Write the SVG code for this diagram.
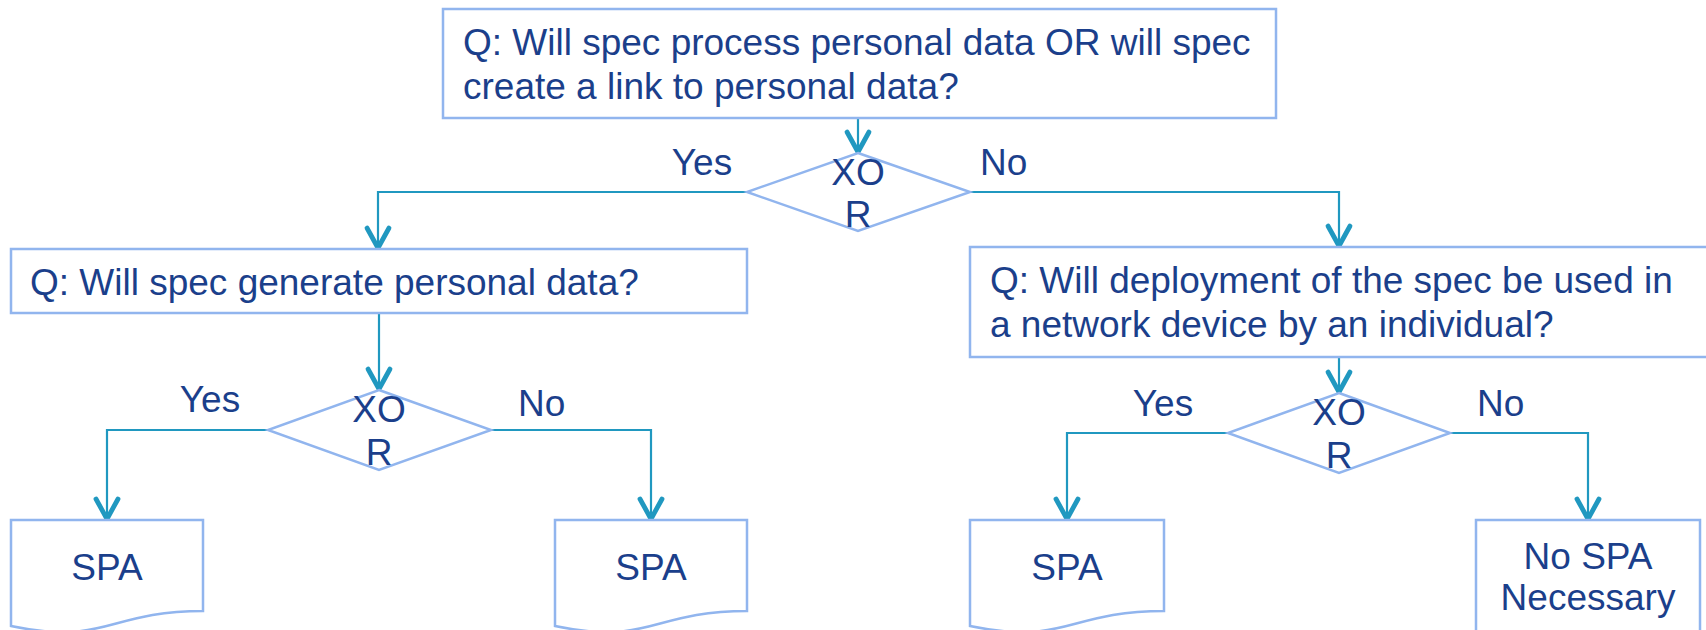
<svg xmlns="http://www.w3.org/2000/svg" width="1706" height="630" viewBox="0 0 1706 630">
<style>
.box{fill:#ffffff;stroke:#91B5EE;stroke-width:2.5}
.t{font-family:"Liberation Sans",Arial,sans-serif;font-size:37px;fill:#1B3F8B}
.c{text-anchor:middle}
.conn{fill:none;stroke:#2098C0;stroke-width:2.2}
</style>
<defs>
<marker id="arr" markerUnits="userSpaceOnUse" viewBox="-26 -15 30 30" markerWidth="30" markerHeight="30" refX="0" refY="0" orient="auto">
<path d="M-20,-11 L0,0 L-20,11" fill="none" stroke="#2098C0" stroke-width="4.8" stroke-linecap="round" stroke-linejoin="round"/>
</marker>
</defs>
<rect x="0" y="0" width="1706" height="630" fill="#ffffff"/>
<g id="connectors">
<path class="conn" d="M858,118 V152" marker-end="url(#arr)"/>
<path class="conn" d="M747,192 H378 V248" marker-end="url(#arr)"/>
<path class="conn" d="M970,192 H1339 V246" marker-end="url(#arr)"/>
<path class="conn" d="M379,313 V389" marker-end="url(#arr)"/>
<path class="conn" d="M268,430 H107 V519" marker-end="url(#arr)"/>
<path class="conn" d="M491,430 H651 V519" marker-end="url(#arr)"/>
<path class="conn" d="M1339,357 V392" marker-end="url(#arr)"/>
<path class="conn" d="M1228,433 H1067 V519" marker-end="url(#arr)"/>
<path class="conn" d="M1450,433 H1588 V519" marker-end="url(#arr)"/>
</g>
<g id="q1">
<rect class="box" x="443" y="9" width="833" height="109"/>
<text class="t" x="463" y="55">Q: Will spec process personal data OR will spec</text>
<text class="t" x="463" y="99">create a link to personal data?</text>
</g>
<g id="xor1">
<polygon class="box" points="858,153 970,192 858,231 747,192"/>
<text class="t c" x="858" y="185">XO</text>
<text class="t c" x="858" y="227">R</text>
</g>
<g id="lbl-yes1"><text class="t c" x="702" y="175">Yes</text></g>
<g id="lbl-no1"><text class="t" x="980" y="175">No</text></g>
<g id="q2">
<rect class="box" x="11" y="249" width="736" height="64"/>
<text class="t" x="30" y="295">Q: Will spec generate personal data?</text>
</g>
<g id="q3">
<rect class="box" x="970" y="247" width="740" height="110"/>
<text class="t" x="990" y="293">Q: Will deployment of the spec be used in</text>
<text class="t" x="990" y="337">a network device by an individual?</text>
</g>
<g id="xor2">
<polygon class="box" points="379,390 491,430 379,470 268,430"/>
<text class="t c" x="379" y="422">XO</text>
<text class="t c" x="379" y="465">R</text>
</g>
<g id="lbl-yes2"><text class="t c" x="210" y="412">Yes</text></g>
<g id="lbl-no2"><text class="t" x="518" y="416">No</text></g>
<g id="xor3">
<polygon class="box" points="1339,393 1450,433 1339,473 1228,433"/>
<text class="t c" x="1339" y="425">XO</text>
<text class="t c" x="1339" y="468">R</text>
</g>
<g id="lbl-yes3"><text class="t c" x="1163" y="416">Yes</text></g>
<g id="lbl-no3"><text class="t" x="1477" y="416">No</text></g>
<g id="spa1">
<path class="box" d="M11,520 H203 V611 C107,611 107,646 11,626 Z"/>
<text class="t c" x="107" y="580">SPA</text>
</g>
<g id="spa2">
<path class="box" d="M555,520 H747 V611 C651,611 651,646 555,626 Z"/>
<text class="t c" x="651" y="580">SPA</text>
</g>
<g id="spa3">
<path class="box" d="M970,520 H1164 V611 C1067,611 1067,646 970,626 Z"/>
<text class="t c" x="1067" y="580">SPA</text>
</g>
<g id="nospa">
<rect class="box" x="1476" y="520" width="224" height="130"/>
<text class="t c" x="1588" y="569">No SPA</text>
<text class="t c" x="1588" y="610">Necessary</text>
</g>
</svg>
